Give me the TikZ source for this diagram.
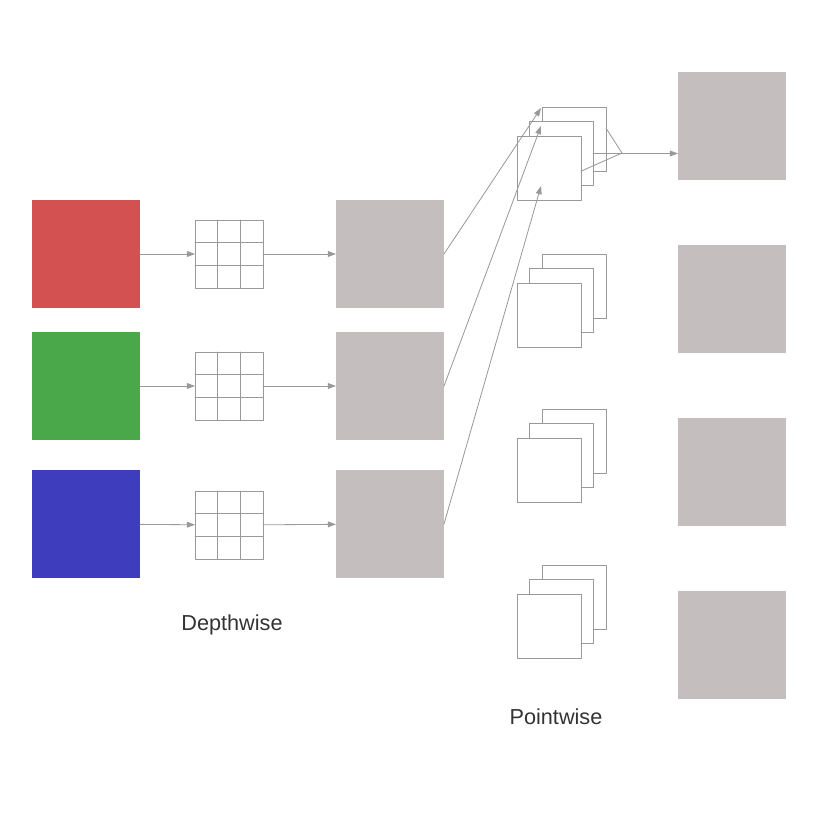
\documentclass[tikz,border=0pt]{standalone}
\usepackage{fontspec}
\setmainfont{Liberation Sans}
\usetikzlibrary{arrows.meta,calc}
\definecolor{inred}{HTML}{D35151}
\definecolor{ingreen}{HTML}{4AA84A}
\definecolor{inblue}{HTML}{3D3DBD}
\definecolor{fmgray}{HTML}{C4BFBE}
\definecolor{linegray}{HTML}{999999}
\definecolor{textgray}{HTML}{333333}
\begin{document}
\begin{tikzpicture}[x=0.03cm,y=-0.03cm,line cap=round,line join=round,
  fmap/.style={minimum size=3.24cm,inner sep=0pt,outer sep=0pt},
  kern/.style={draw=linegray,line width=0.7pt,minimum size=2.04cm,inner sep=0pt,outer sep=0pt},
  pwbox/.style={draw=linegray,fill=white,line width=0.7pt,minimum size=1.92cm,inner sep=0pt,outer sep=0pt},
  conn/.style={draw=linegray,line width=0.7pt,-{Triangle[length=7pt,width=5pt]}},
  lbl/.style={text=textgray,font=\fontsize{18.5}{22}\selectfont}]
  \useasboundingbox (0,0) rectangle (819,819);
  % input channels
  \node[fmap,fill=inred] (r) at (86,254) {};
  \node[fmap,fill=ingreen] (g) at (86,386) {};
  \node[fmap,fill=inblue] (b) at (86,524) {};
  % 3x3 kernels
  \node[kern] (k1) at (229,254) {};
  \node[kern] (k2) at (229,386) {};
  \node[kern] (k3) at (229,525) {};
  \foreach \k in {k1,k2,k3}
    \foreach \f in {0.333,0.667} {
      \draw[linegray,line width=0.7pt] ($(\k.north west)!\f!(\k.north east)$) -- ($(\k.south west)!\f!(\k.south east)$);
      \draw[linegray,line width=0.7pt] ($(\k.north west)!\f!(\k.south west)$) -- ($(\k.north east)!\f!(\k.south east)$);
    }
  % depthwise outputs
  \node[fmap,fill=fmgray] (d1) at (390,254) {};
  \node[fmap,fill=fmgray] (d2) at (390,386) {};
  \node[fmap,fill=fmgray] (d3) at (390,524) {};
  \draw[conn] (r) -- (k1);
  \draw[conn] (g) -- (k2);
  \draw[conn] (b) -- (k3);
  \draw[conn] (k1) -- (d1);
  \draw[conn] (k2) -- (d2);
  \draw[conn] (k3) -- (d3);
  % pointwise 1x1 stacks
  \foreach \i/\y in {1/136,2/283,3/438,4/594} {
    \node[pwbox] (p\i a) at (574,\y+3) {};
    \node[pwbox] (p\i b) at (561,\y+17.5) {};
    \node[pwbox] (p\i c) at (549,\y+32) {};
  }
  % outputs
  \node[fmap,fill=fmgray] (o1) at (732,126) {};
  \node[fmap,fill=fmgray] (o2) at (732,299) {};
  \node[fmap,fill=fmgray] (o3) at (732,472) {};
  \node[fmap,fill=fmgray] (o4) at (732,645) {};
  \coordinate (t1) at (541,108);
  \coordinate (t2) at (541,126);
  \coordinate (t3) at (541,186);
  \coordinate (m) at (622,153);
  \draw[conn] (d1.east) -- (t1);
  \draw[conn] (d2.east) -- (t2);
  \draw[conn] (d3.east) -- (t3);
  \draw[linegray,line width=0.7pt] ($(p1a.north east)!0.33!(p1a.south east)$) -- (m) -- ($(p1c.north east)!0.55!(p1c.south east)$);
  \draw[conn] (p1b.east) -- (p1b.east -| o1.west);
  % labels
  \node[lbl] (dw) at (232,625) {Depthwise};
  \node[lbl] (pw) at (556,717) {Pointwise};
\end{tikzpicture}
\end{document}
